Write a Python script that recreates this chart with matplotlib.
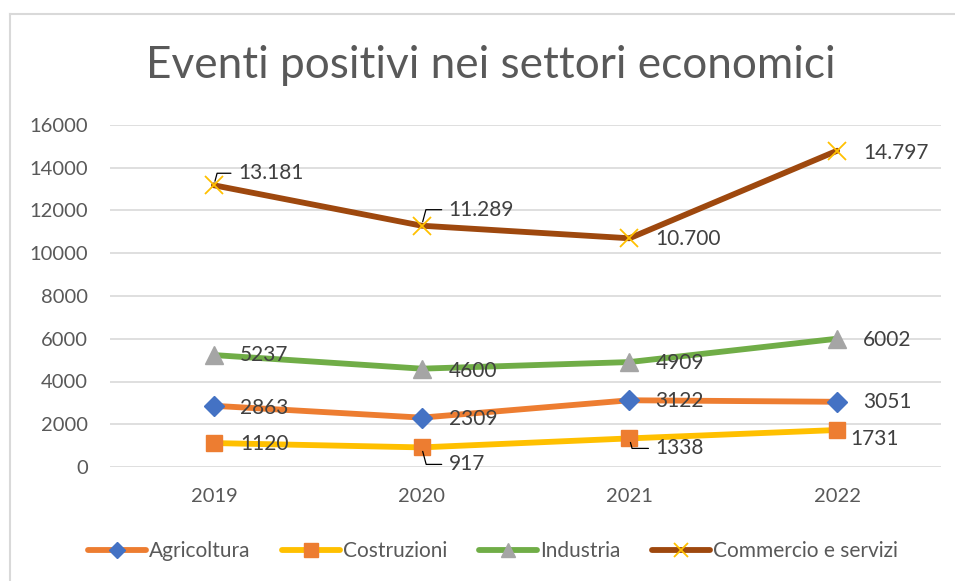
import matplotlib.pyplot as plt
from matplotlib.lines import Line2D

plt.rcParams['font.family'] = ['Lato', 'DejaVu Sans']

years = ['2019', '2020', '2021', '2022']
agricoltura = [2863, 2309, 3122, 3051]
costruzioni = [1120, 917, 1338, 1731]
industria = [5237, 4600, 4909, 6002]
commercio = [13181, 11289, 10700, 14797]
commercio_labels = ['13.181', '11.289', '10.700', '14.797']

y_ticks = [0, 2000, 4000, 6000, 8000, 10000, 12000, 14000, 16000]

# name, values, labels, line colour, marker, marker colour, marker size
series = [
    ('Agricoltura', agricoltura, [str(v) for v in agricoltura], '#ED7D31', 'D', '#4472C4', 10),
    ('Costruzioni', costruzioni, [str(v) for v in costruzioni], '#FFC000', 's', '#ED7D31', 12),
    ('Industria', industria, [str(v) for v in industria], '#70AD47', '^', '#A5A5A5', 13),
    ('Commercio e servizi', commercio, commercio_labels, '#9E480E', 'x', '#FFC000', 13),
]

# label offsets in pixels (to left edge / vertical centre of text), leader flag
offsets = {
    'Agricoltura': [(26, -2, 0), (27, -1, 0), (26, -1, 0), (26, 0, 0)],
    'Costruzioni': [(26, -1, 0), (27, -17, 1), (26, -10, 1), (13, -9, 0)],
    'Industria': [(26, 0, 0), (27, -2, 0), (26, -1, 0), (26, -1, 0)],
    'Commercio e servizi': [(24, 12, 1), (27, 16, 1), (26, -1, 0), (26, -2, 0)],
}

fig = plt.figure(figsize=(9.55, 5.81), dpi=100)
ax = fig.add_axes([110 / 955, 1 - 467 / 581, 831 / 955, 342 / 581])

x = list(range(len(years)))
handles = []
for name, vals, labels, lc, mk, mc, ms in series:
    if mk == 'x':
        ln, = ax.plot(x, vals, color=lc, lw=4.2, marker=mk, markersize=ms,
                      markeredgecolor=mc, markeredgewidth=1.3, zorder=3,
                      solid_capstyle='round')
    else:
        ln, = ax.plot(x, vals, color=lc, lw=4.2, marker=mk, markersize=ms,
                      markerfacecolor=mc, markeredgecolor=mc, zorder=3,
                      solid_capstyle='round')
    handles.append(ln)
    for i, (v, lab) in enumerate(zip(vals, labels)):
        dx, dy, leader = offsets[name][i]
        kw = {}
        if leader:
            kw['arrowprops'] = dict(arrowstyle='-', color='black', lw=0.9,
                                    shrinkA=3, shrinkB=3,
                                    connectionstyle='angle,angleA=180,angleB=%d,rad=0'
                                    % (75 if dy > 0 else -75),
                                    relpos=(0, 0.5))
        ax.annotate(lab, xy=(i, v), xytext=(dx * 0.72, dy * 0.72),
                    textcoords='offset points', ha='left', va='center',
                    fontsize=15, color='#404040', zorder=4, **kw)

ax.set_xlim(-0.5, 3.5)
ax.set_ylim(0, 16000)
ax.set_xticks(x)
ax.set_xticklabels(years)
ax.set_yticks(y_ticks)
ax.tick_params(axis='both', length=0, labelsize=14.5, labelcolor='#595959')
ax.tick_params(axis='x', pad=15)
ax.tick_params(axis='y', pad=16)
ax.grid(axis='y', color='#D9D9D9', lw=1.2)
ax.set_axisbelow(True)
for s in ax.spines.values():
    s.set_visible(False)

fig.text(491 / 955, 1 - 66 / 581, 'Eventi positivi nei settori economici',
         ha='center', va='center', fontsize=31.8, color='#595959')

leg = fig.legend(handles, [s[0] for s in series], loc='center',
                 bbox_to_anchor=(493 / 955, 1 - 551 / 581), ncol=4, frameon=False,
                 fontsize=15, handlelength=2.8, columnspacing=1.5,
                 handletextpad=0.15, markerscale=0.8, labelcolor='#595959')

# chart border (top and left visible)
fig.add_artist(Line2D([9.5 / 955, 9.5 / 955], [0, 1 - 13.5 / 581],
                      transform=fig.transFigure, color='#D9D9D9', lw=1.5))
fig.add_artist(Line2D([9.5 / 955, 1], [1 - 13.5 / 581, 1 - 13.5 / 581],
                      transform=fig.transFigure, color='#D9D9D9', lw=1.5))

fig.savefig('out.png', dpi=100)
